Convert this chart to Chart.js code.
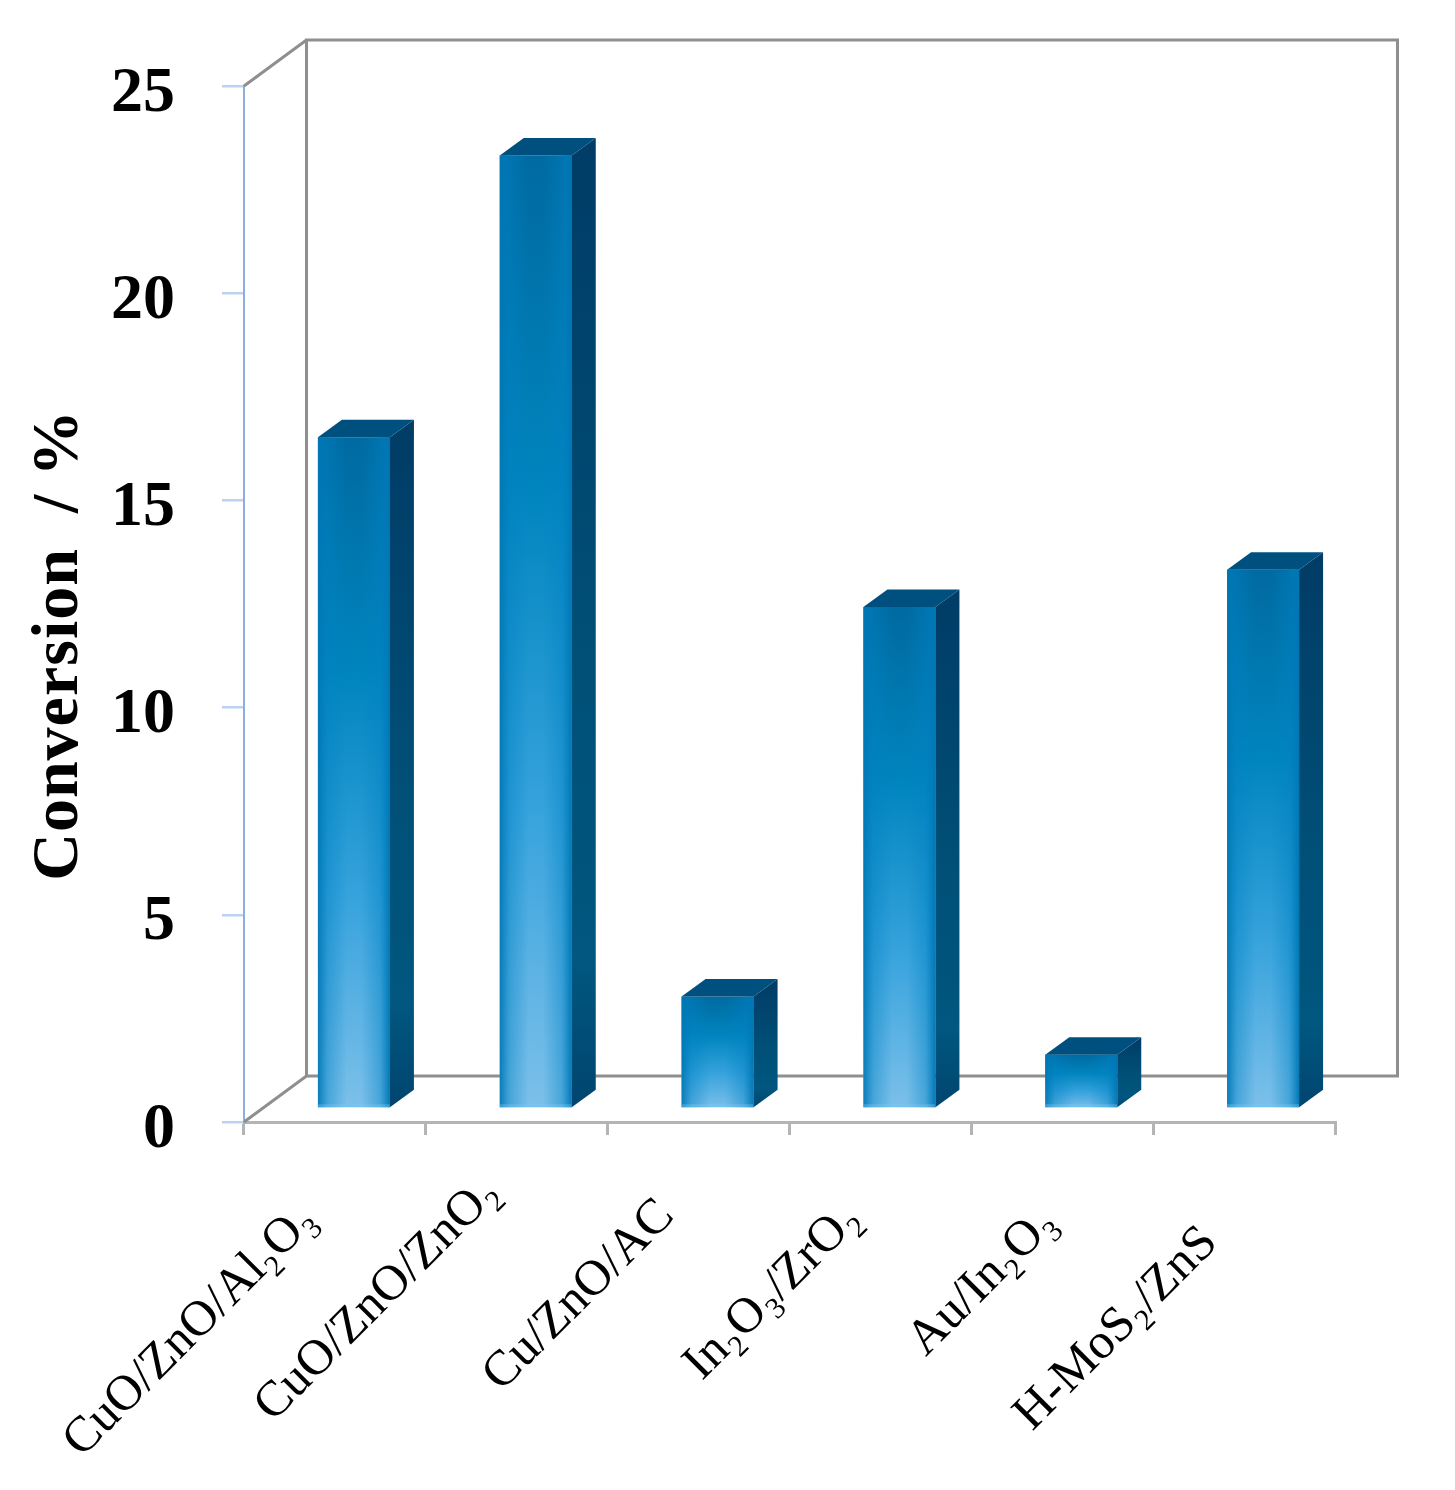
<!DOCTYPE html>
<html><head><meta charset="utf-8">
<style>html,body{margin:0;padding:0;background:#fff}canvas{display:block}</style>
<script src="https://cdn.jsdelivr.net/npm/chart.js@4/dist/chart.umd.min.js"></script>
</head><body><canvas id="c" width="1455" height="1490"></canvas>
<script>
const categories=["CuO/ZnO/Al₂O₃","CuO/ZnO/ZnO₂","Cu/ZnO/AC","In₂O₃/ZrO₂","Au/In₂O₃","H-MoS₂/ZnS"];
const conversion=[16.2,23.0,2.7,12.1,1.3,13.0];
const yTicks=[0,5,10,15,20,25];
const yTitle="Conversion  / %";
const labelShift=[[-26,-8],[-25,-35],[-32,-12],[-27,-9],[-13,-5],[-34,15]];
const WALL={dx:62.5,dy:-46}, BAR={dx:19,dy:-13.5}, CAP={dx:24,dy:-17.5};

function frontGradient(ctx){
  const {chart,dataIndex}=ctx;
  const y=chart.scales.y;
  if(ctx.type!=='data'||!y) return '#0082bb';
  const top=y.getPixelForValue(conversion[dataIndex]), base=y.getPixelForValue(0);
  if(!Number.isFinite(top)||!Number.isFinite(base)) return '#0082bb';
  const g=chart.ctx.createLinearGradient(0,top,0,base);
  g.addColorStop(0,'#006aa1');g.addColorStop(.35,'#0085be');g.addColorStop(.68,'#35a2dc');g.addColorStop(1,'#7cc0ea');
  return g;
}
const scene3d={
  id:'scene3d',
  beforeDraw(chart){
    const x=chart.scales.x,y=chart.scales.y;
    x.getLabelItems(chart.chartArea).forEach((it,i)=>{
      if(it._moved)return; it._moved=true;
      it.options.translation[0]+=labelShift[i][0];it.options.translation[1]+=labelShift[i][1];
    });
    y.getLabelItems(chart.chartArea).forEach(it=>{
      if(it._moved)return; it._moved=true; it.options.translation[1]+=8;
    });
    if(!y._titleMoved){
      y._titleMoved=true;
      const drawTitle=y.drawTitle;
      y.drawTitle=function(){
        const c=this.ctx;c.save();c.translate(20,41);c.letterSpacing='1px';
        drawTitle.call(this);
        c.letterSpacing='0px';c.restore();
      };
    }
  },
  beforeDatasetsDraw(chart){
    const {ctx,chartArea:a}=chart;
    ctx.save();
    ctx.strokeStyle='#8f8f8f';ctx.lineWidth=3;ctx.lineJoin='miter';
    ctx.beginPath();
    ctx.moveTo(a.left+WALL.dx,a.bottom+WALL.dy);
    ctx.lineTo(a.left+WALL.dx,a.top+WALL.dy);
    ctx.lineTo(a.right+WALL.dx,a.top+WALL.dy);
    ctx.lineTo(a.right+WALL.dx,a.bottom+WALL.dy);
    ctx.lineTo(a.left+WALL.dx,a.bottom+WALL.dy);
    ctx.moveTo(a.left,a.top);ctx.lineTo(a.left+WALL.dx,a.top+WALL.dy);
    ctx.moveTo(a.left,a.bottom);ctx.lineTo(a.left+WALL.dx,a.bottom+WALL.dy);
    ctx.stroke();
    ctx.restore();
    ctx.save();ctx.translate(BAR.dx,BAR.dy);
  },
  afterDatasetsDraw(chart){
    const {ctx}=chart;
    chart.getDatasetMeta(0).data.forEach(b=>{
      const l=b.x-b.width/2,r=b.x+b.width/2,t=b.y,bt=b.base,h=bt-t;
      let g=ctx.createLinearGradient(l,0,r,0);
      g.addColorStop(0,'rgba(0,118,180,.92)');g.addColorStop(.14,'rgba(0,130,195,.42)');g.addColorStop(.4,'rgba(0,130,195,0)');
      g.addColorStop(.6,'rgba(0,130,195,0)');g.addColorStop(.86,'rgba(0,130,195,.42)');g.addColorStop(1,'rgba(0,118,180,.97)');
      ctx.fillStyle=g;ctx.fillRect(l,t,b.width,h);
      ctx.fillStyle='rgba(120,200,245,.4)';ctx.fillRect(l,bt-3,b.width,3);
      g=ctx.createLinearGradient(0,t+CAP.dy,0,bt);
      g.addColorStop(0,'#003c66');g.addColorStop(.55,'#005078');g.addColorStop(.85,'#00577f');g.addColorStop(1,'#004570');
      ctx.fillStyle=g;ctx.beginPath();
      ctx.moveTo(r,t);ctx.lineTo(r+CAP.dx,t+CAP.dy);ctx.lineTo(r+CAP.dx,bt+CAP.dy);ctx.lineTo(r,bt);ctx.closePath();ctx.fill();
      ctx.fillStyle='#00507f';ctx.beginPath();
      ctx.moveTo(l,t);ctx.lineTo(l+CAP.dx,t+CAP.dy);ctx.lineTo(r+CAP.dx,t+CAP.dy);ctx.lineTo(r,t);ctx.closePath();ctx.fill();
    });
    ctx.restore();
  }
};
new Chart(document.getElementById('c'),{
  type:'bar',
  data:{labels:categories,datasets:[{data:conversion,backgroundColor:frontGradient,borderWidth:0,barPercentage:.396,categoryPercentage:1}]},
  plugins:[scene3d],
  options:{
    responsive:false,animation:false,events:[],
    layout:{padding:{top:86,right:120,bottom:0,left:0}},
    plugins:{legend:{display:false},tooltip:{enabled:false},title:{display:false}},
    scales:{
      x:{
        offset:true,
        afterFit(s){s.height=368;},
        border:{color:'#b4b4b4',width:3},
        grid:{drawOnChartArea:false,color:'#b4b4b4',lineWidth:3,tickLength:13,offset:true},
        ticks:{autoSkip:false,minRotation:45,maxRotation:45,padding:64,color:'#000',font:{family:'"Liberation Serif"',size:50}}
      },
      y:{
        min:0,max:25,
        afterBuildTicks(s){s.ticks=yTicks.map(v=>({value:v}));},
        afterFit(s){s.width=244;},
        border:{color:'#8eaede',width:2},
        grid:{drawOnChartArea:false,color:'#bcd2f0',lineWidth:2.5,tickLength:22},
        ticks:{padding:47,color:'#000',font:{family:'"Liberation Serif"',size:64,weight:'bold'}},
        title:{display:true,text:yTitle,color:'#000',padding:{top:0,bottom:0},font:{family:'"Liberation Serif"',size:66,weight:'bold'}}
      }
    }
  }
});
</script></body></html>
